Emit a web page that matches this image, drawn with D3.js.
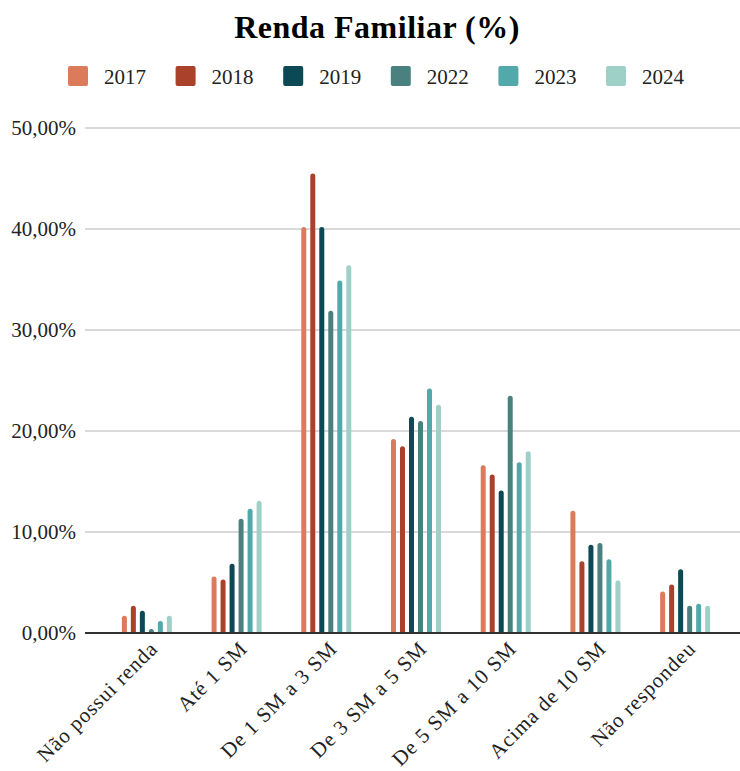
<!DOCTYPE html>
<html lang="pt">
<head>
    <meta charset="UTF-8">
    <script src="https://cdn.jsdelivr.net/npm/d3@7"></script>
    <title>Renda Familiar</title>
    <style>
        body { margin: 0; background: #fff; }
        text { font-family: "Liberation Serif", "DejaVu Serif", serif; }
    </style>
</head>
<body>
    <svg width="740" height="771"></svg>
    <script>
        const categories = ['Não possui renda', 'Até 1 SM', 'De 1 SM a 3 SM', 'De 3 SM a 5 SM',
                            'De 5 SM a 10 SM', 'Acima de 10 SM', 'Não respondeu'];
        const years = ['2017', '2018', '2019', '2022', '2023', '2024'];
        const colors = ['#dc7a5c', '#a9412b', '#0b4a55', '#4a807d', '#53a9a9', '#9fd0c8'];

        // one array per year, in category order (percent)
        const v2017 = [1.7, 5.6, 40.2, 19.2, 16.6, 12.1, 4.1];
        const v2018 = [2.7, 5.3, 45.5, 18.5, 15.7, 7.1, 4.8];
        const v2019 = [2.2, 6.85, 40.2, 21.4, 14.1, 8.75, 6.3];
        const v2022 = [0.4, 11.3, 31.9, 21.0, 23.5, 8.9, 2.7];
        const v2023 = [1.2, 12.3, 34.9, 24.2, 16.9, 7.3, 2.9];
        const v2024 = [1.7, 13.1, 36.4, 22.6, 18.0, 5.2, 2.7];
        const series = [v2017, v2018, v2019, v2022, v2023, v2024];

        const yTicks = [0, 10, 20, 30, 40, 50];

        const svg = d3.select('svg');
        const fmt = d => d3.format('.2f')(d).replace('.', ',') + '%';

        const x = d3.scaleBand().domain(categories).range([102, 730]);
        const xi = d3.scaleBand().domain(years).range([-27, 27]);
        const y = d3.scaleLinear().domain([0, 50]).range([633, 128]);

        // title
        svg.append('text').attr('x', 377).attr('y', 38)
            .attr('text-anchor', 'middle').attr('font-size', 32).attr('font-weight', 'bold')
            .attr('letter-spacing', 0.5)
            .text('Renda Familiar (%)');

        // legend
        const legend = svg.append('g').selectAll('g').data(years).join('g')
            .attr('transform', (d, i) => `translate(${68 + i * 107.6},66)`);
        legend.append('rect').attr('width', 20).attr('height', 20).attr('rx', 2)
            .attr('fill', (d, i) => colors[i]);
        legend.append('text').attr('x', 36).attr('y', 18).attr('font-size', 21)
            .attr('fill', '#222').text(d => d);

        // grid + y labels
        const grid = svg.append('g');
        grid.selectAll('line').data(yTicks.slice(1)).join('line')
            .attr('x1', 85).attr('x2', 740)
            .attr('y1', d => y(d)).attr('y2', d => y(d))
            .attr('stroke', '#cccccc').attr('stroke-width', 1.3);
        grid.selectAll('text').data(yTicks).join('text')
            .attr('x', 76).attr('y', d => y(d) + 7)
            .attr('text-anchor', 'end').attr('font-size', 21).attr('fill', '#222')
            .text(fmt);

        // bars with rounded tops
        const bw = 5, r = 2.5;
        function barPath(cx, top, base) {
            const h = base - top;
            const rr = Math.min(r, h);
            return `M${cx - bw / 2},${base}V${top + rr}A${bw / 2},${rr} 0 0 1 ${cx + bw / 2},${top + rr}V${base}Z`;
        }
        const groups = svg.append('g').selectAll('g').data(years).join('g')
            .attr('fill', (d, i) => colors[i]);
        groups.selectAll('path').data((yr, i) => series[i].map((v, j) => ({ yr, v, cat: categories[j] })))
            .join('path')
            .attr('d', d => barPath(x(d.cat) + x.bandwidth() / 2 + xi(d.yr) + xi.bandwidth() / 2, y(d.v), y(0)));

        // baseline
        svg.append('line').attr('x1', 85).attr('x2', 740).attr('y1', y(0)).attr('y2', y(0))
            .attr('stroke', '#333').attr('stroke-width', 2);

        // x labels
        svg.append('g').selectAll('text').data(categories).join('text')
            .attr('text-anchor', 'end').attr('font-size', 21).attr('fill', '#222')
            .attr('letter-spacing', 0.9)
            .attr('transform', d => `translate(${x(d) + x.bandwidth() / 2 + 12},${650}) rotate(-45)`)
            .text(d => d);
    </script>
</body>
</html>
